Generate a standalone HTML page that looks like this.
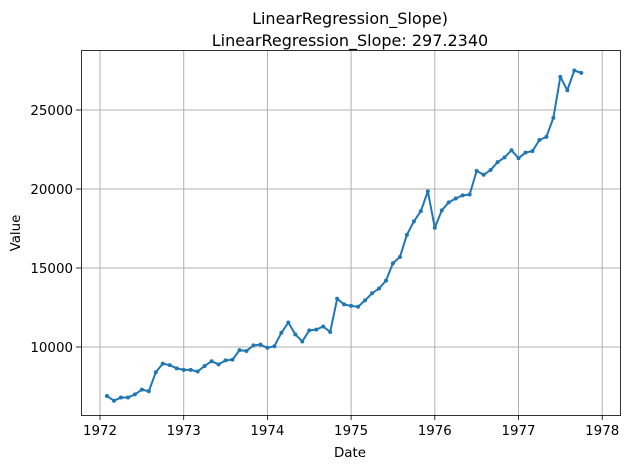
<!DOCTYPE html>
<html><head><meta charset="utf-8"><style>
body{margin:0;background:#fff;font-family:"Liberation Sans","DejaVu Sans",sans-serif}
</style></head><body>
<svg width="629" height="470" xmlns="http://www.w3.org/2000/svg" font-family="DejaVu Sans, Liberation Sans, sans-serif">
<g id="grid"></g>
<g id="line"></g>
<rect x="81.5" y="50.5" width="539" height="365" fill="none" stroke="#000" stroke-width="0.8"/>
<g id="ticks" font-size="13.4" fill="#000"></g>
<text x="350" y="24" text-anchor="middle" font-size="16">LinearRegression_Slope)</text>
<text x="350" y="46" text-anchor="middle" font-size="16">LinearRegression_Slope: 297.2340</text>
<text x="350" y="457" text-anchor="middle" font-size="13.4">Date</text>
<text x="20" y="233" text-anchor="middle" font-size="13.4" transform="rotate(-90 20 233)">Value</text>
</svg>
<script>
const startYear = 1972, startMonth = 2;
const values = [6900,6600,6800,6800,7000,7300,7200,8400,8950,8850,8650,
8550,8550,8450,8800,9100,8900,9150,9200,9800,9750,10100,10150,
9950,10050,10900,11550,10800,10350,11050,11100,11300,10950,13050,12700,
12600,12550,12950,13400,13700,14200,15300,15700,17100,17950,18600,19850,
17550,18650,19150,19400,19600,19650,21150,20900,21200,21700,22000,22450,
21950,22300,22400,23100,23300,24500,27100,26250,27500,27350];
const xTicks = [1972,1973,1974,1975,1976,1977,1978];
const yTicks = [10000,15000,20000,25000];
const NS="http://www.w3.org/2000/svg";
const xs = t => 100 + (t-1972)*83.7;
const ys = v => 347 - (v-10000)*79/5000;
const grid=document.getElementById('grid'), tk=document.getElementById('ticks'), ln=document.getElementById('line');
function mk(tag,attrs,parent){const e=document.createElementNS(NS,tag);for(const k in attrs)e.setAttribute(k,attrs[k]);parent.appendChild(e);return e;}
xTicks.forEach(t=>{const x=xs(t);
 const g=mk('line',{x1:x,x2:x,y1:50,y2:415,stroke:'#b0b0b0','stroke-width':1},grid);
 
 
 mk('line',{x1:x,x2:x,y1:415,y2:420,stroke:'#000','stroke-width':0.8},tk);
 const l=mk('text',{x:x,y:435,'text-anchor':'middle'},tk);l.textContent=t;
 
 
});
yTicks.forEach(v=>{const y=ys(v);
 const g=mk('line',{x1:81,x2:620,y1:y,y2:y,stroke:'#b0b0b0','stroke-width':1},grid);
 
 
 mk('line',{x1:76,x2:81,y1:y,y2:y,stroke:'#000','stroke-width':0.8},tk);
 const l=mk('text',{x:73,y:y+5,'text-anchor':'end'},tk);l.textContent=v;
 
 
});
const pts=values.map((v,i)=>[xs(startYear+(startMonth-1+i)/12),ys(v)]);
const p=mk('polyline',{points:pts.map(q=>q.join(',')).join(' '),fill:'none',stroke:'#1f77b4','stroke-width':2,'stroke-linejoin':'round'},ln);


pts.forEach(q=>{const c=mk('circle',{cx:q[0],cy:q[1],r:2,fill:'#1f77b4'},ln);
 
 
});
</script>
</body></html>
